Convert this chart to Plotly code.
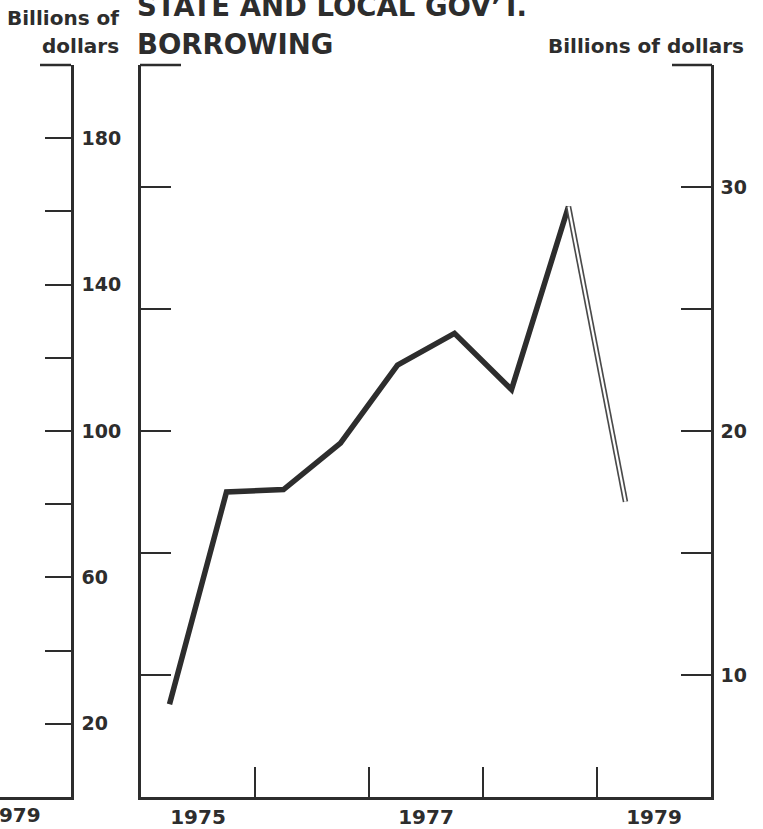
import plotly.graph_objects as go

# Half-year periods (plotted at mid-half) and borrowing, billions of dollars, annual rate
periods = [1975.25, 1975.75, 1976.25, 1976.75, 1977.25, 1977.75, 1978.25, 1978.75, 1979.25]
borrowing = [8.8, 17.5, 17.6, 19.5, 22.7, 24.0, 21.7, 29.2, 17.1]
n_actual = 8  # last point is a projection

year_ticks = [1976, 1977, 1978, 1979]
year_label_pos = [1975.5, 1977.5, 1979.5]
year_labels = ["1975", "1977", "1979"]

right_tickvals = [10, 15, 20, 25, 30]
right_ticktext = ["10", "", "20", "", "30"]

# neighbouring panel's scale (0-200)
frag_tickvals = [20, 40, 60, 80, 100, 120, 140, 160, 180]
frag_ticktext = ["20", "", "60", "", "100", "", "140", "", "180"]

W, H = 763, 829
L_PX, R_PX = 141, 711
TOP_PX, BOT_PX = 65, 797
INK = "#2d2d2d"
FONT = "DejaVu Sans"


def px_x(x):
    return x / W


def px_y(y):
    return (BOT_PX - y) / (BOT_PX - TOP_PX)


fig = go.Figure()

# actual series
fig.add_trace(go.Scatter(
    x=periods[:n_actual], y=borrowing[:n_actual], mode="lines",
    line=dict(color=INK, width=5.5), xaxis="x", yaxis="y",
    hoverinfo="skip", showlegend=False,
))
# projected segment, drawn as an open double line
fig.add_trace(go.Scatter(
    x=periods[n_actual - 1:], y=borrowing[n_actual - 1:], mode="lines",
    line=dict(color="#4a4a4a", width=5.5), xaxis="x", yaxis="y",
    hoverinfo="skip", showlegend=False,
))
fig.add_trace(go.Scatter(
    x=periods[n_actual - 1:], y=borrowing[n_actual - 1:], mode="lines",
    line=dict(color="white", width=2.2), xaxis="x", yaxis="y",
    hoverinfo="skip", showlegend=False,
))
# invisible traces to register the extra axes
fig.add_trace(go.Scatter(x=[None], y=[None], xaxis="x", yaxis="y2", showlegend=False))
fig.add_trace(go.Scatter(x=[None], y=[None], xaxis="x2", yaxis="y3", showlegend=False))

axis_common = dict(showgrid=False, zeroline=False, linecolor=INK, linewidth=2.5,
                   tickcolor=INK, tickwidth=2, automargin=False)

fig.update_layout(
    width=W, height=H,
    margin=dict(l=0, r=0, t=TOP_PX, b=H - BOT_PX, autoexpand=False),
    paper_bgcolor="white", plot_bgcolor="rgba(0,0,0,0)",
    font=dict(family=FONT, color=INK),
    xaxis=dict(
        **axis_common, domain=[px_x(L_PX), px_x(R_PX)], range=[1975, 1980],
        showline=True, mirror=False, anchor="y",
        tickmode="array", tickvals=year_label_pos, ticktext=year_labels,
        ticks="", ticklabelstandoff=0,
        tickfont=dict(size=20, weight="bold", family=FONT, color=INK),
        minor=dict(tickmode="array", tickvals=year_ticks, ticks="inside",
                   ticklen=30, tickwidth=2, tickcolor=INK, showgrid=False),
    ),
    yaxis=dict(
        **axis_common, domain=[0, 1], range=[5, 35], anchor="x",
        showline=True, ticks="inside", ticklen=30,
        tickmode="array", tickvals=right_tickvals, showticklabels=False,
    ),
    yaxis2=dict(
        **axis_common, range=[5, 35], overlaying="y", side="right", anchor="x",
        showline=True, ticks="inside", ticklen=30,
        tickmode="array", tickvals=right_tickvals, ticktext=right_ticktext,
        ticklabelstandoff=3,
        tickfont=dict(size=19, weight="bold", family=FONT, color=INK),
    ),
    xaxis2=dict(
        **axis_common, domain=[0, px_x(71)], range=[0, 1], anchor="y3",
        showline=True, ticks="", showticklabels=False,
    ),
    yaxis3=dict(
        **axis_common, domain=[0, 1], range=[0, 200], anchor="x2", side="right",
        showline=True, ticks="inside", ticklen=26,
        tickmode="array", tickvals=frag_tickvals, ticktext=frag_ticktext,
        ticklabelstandoff=4,
        tickfont=dict(size=19, weight="bold", family=FONT, color=INK),
    ),
)

# short top caps of the axis frames
for x0, x1 in [(40, 71), (L_PX - 1, 181), (672, R_PX + 1)]:
    fig.add_shape(type="line", xref="paper", yref="paper",
                  x0=px_x(x0), x1=px_x(x1), y0=1, y1=1,
                  line=dict(color=INK, width=2.5))


def note(text, x, y, xanchor, size, **kw):
    fig.add_annotation(text=text, xref="paper", yref="paper",
                       x=px_x(x), y=px_y(y), xanchor=xanchor, yanchor="middle",
                       showarrow=False,
                       font=dict(family=FONT, size=size, color=INK, weight="bold"), **kw)


note("Billions of", 121, 18, "right", 20)
note("dollars", 121, 46, "right", 20)
note("STATE AND LOCAL GOV’T.", 135, 6, "left", 27.5)
note("BORROWING", 135, 44, "left", 27.5)
note("Billions of dollars", 746, 46, "right", 20)
note("1979", 43, 815, "right", 20)

fig.write_html("out.html")
